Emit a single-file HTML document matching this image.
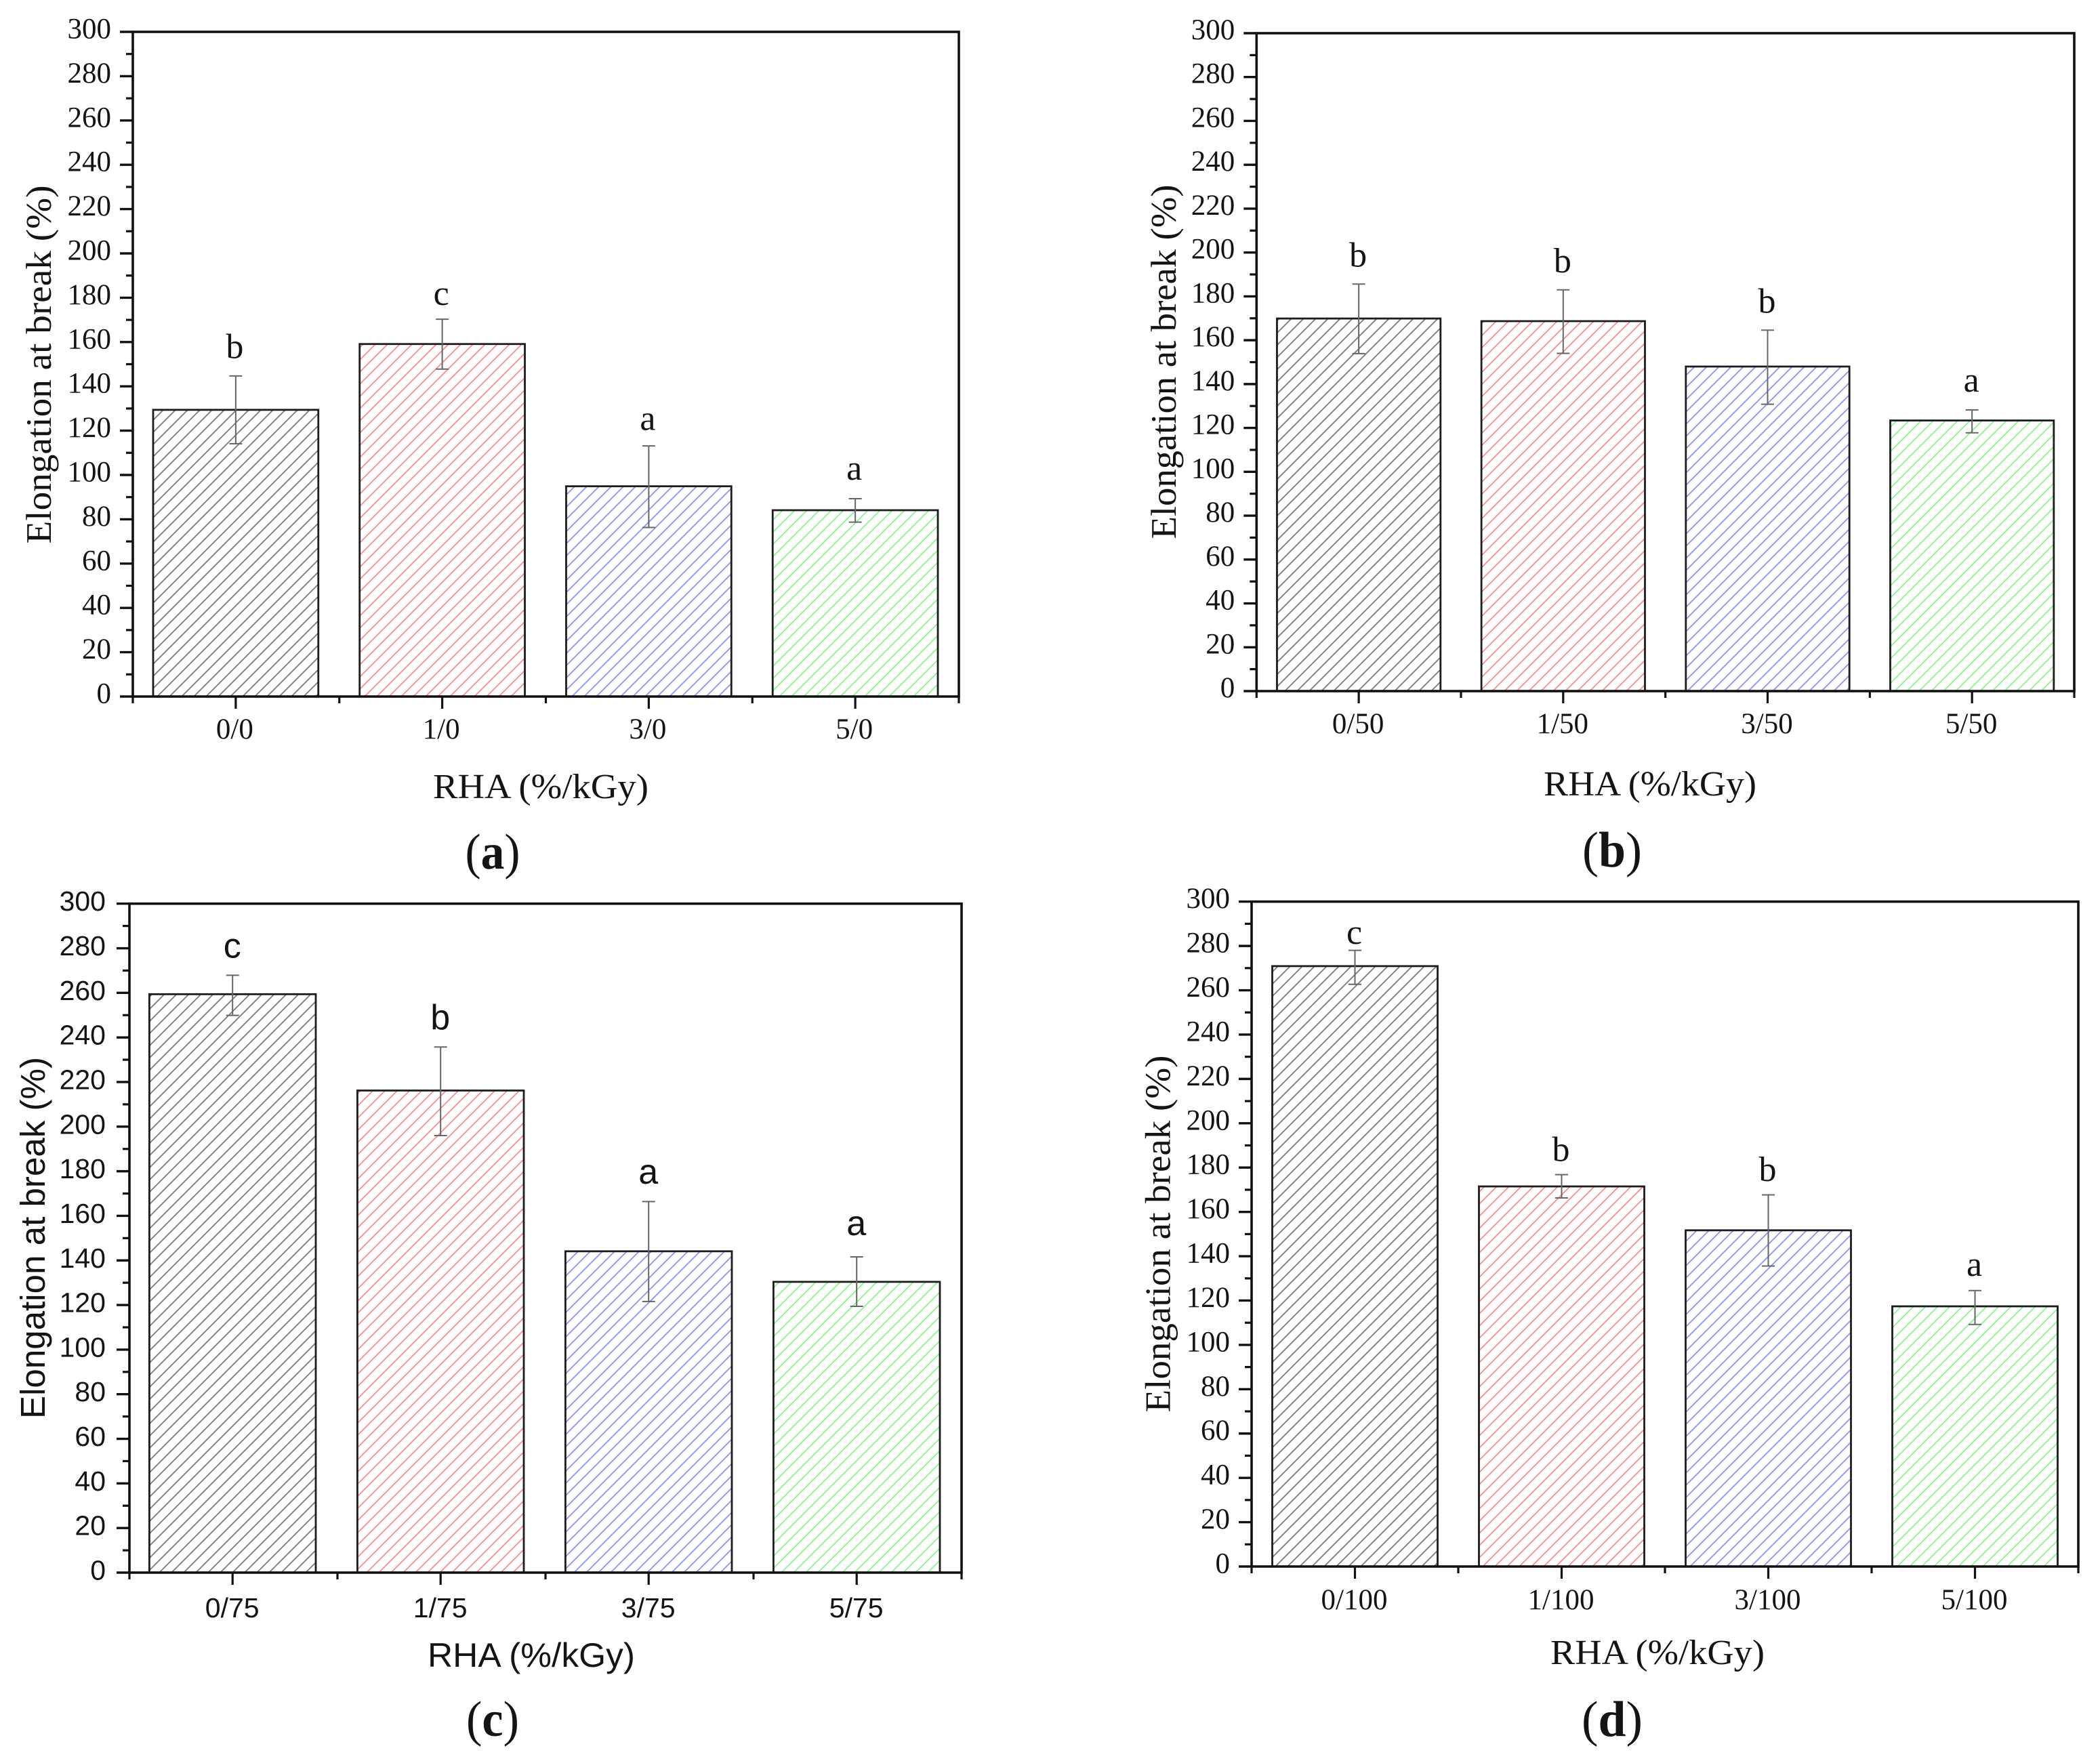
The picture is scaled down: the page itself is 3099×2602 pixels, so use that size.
<!DOCTYPE html>
<html lang="en">
<head>
<meta charset="utf-8">
<title>Elongation at break vs RHA content and irradiation dose</title>
<style>
  html, body { margin: 0; padding: 0; background: #ffffff; }
  svg { display: block; }
  text { fill: #141414; }
</style>
</head>
<body>
<svg id="figure" xmlns="http://www.w3.org/2000/svg" width="3099" height="2602" viewBox="0 0 3099 2602">
  <defs>
    <pattern id="hatch-black" patternUnits="userSpaceOnUse" width="18" height="18">
      <path d="M-2,2 L2,-2 M0,18 L18,0 M16,20 L20,16" stroke="#7a7a7a" stroke-width="1.8" fill="none"/>
    </pattern>
    <pattern id="hatch-red" patternUnits="userSpaceOnUse" width="18" height="18">
      <path d="M-2,2 L2,-2 M0,18 L18,0 M16,20 L20,16" stroke="#ff8a8a" stroke-width="1.8" fill="none"/>
    </pattern>
    <pattern id="hatch-blue" patternUnits="userSpaceOnUse" width="18" height="18">
      <path d="M-2,2 L2,-2 M0,18 L18,0 M16,20 L20,16" stroke="#8f8fff" stroke-width="1.8" fill="none"/>
    </pattern>
    <pattern id="hatch-green" patternUnits="userSpaceOnUse" width="18" height="18">
      <path d="M-2,2 L2,-2 M0,18 L18,0 M16,20 L20,16" stroke="#86f986" stroke-width="1.8" fill="none"/>
    </pattern>
  </defs>
  <rect x="0" y="0" width="3099" height="2602" fill="#ffffff"/>
  <g id="panel-a"></g>
  <g id="panel-b"></g>
  <g id="panel-c"></g>
  <g id="panel-d"></g>
  <text x="727" y="1282" text-anchor="middle" font-family="'Liberation Serif', serif" font-size="74" textLength="81" lengthAdjust="spacingAndGlyphs">(<tspan font-weight="bold">a</tspan>)</text>
  <text x="2379" y="1279" text-anchor="middle" font-family="'Liberation Serif', serif" font-size="74" textLength="88" lengthAdjust="spacingAndGlyphs">(<tspan font-weight="bold">b</tspan>)</text>
  <text x="727" y="2562" text-anchor="middle" font-family="'Liberation Serif', serif" font-size="74" textLength="78" lengthAdjust="spacingAndGlyphs">(<tspan font-weight="bold">c</tspan>)</text>
  <text x="2379" y="2562" text-anchor="middle" font-family="'Liberation Serif', serif" font-size="74" textLength="90" lengthAdjust="spacingAndGlyphs">(<tspan font-weight="bold">d</tspan>)</text>
</svg>
<script>
// Shared axis values
const yTicks = [0, 20, 40, 60, 80, 100, 120, 140, 160, 180, 200, 220, 240, 260, 280, 300];
const yDomainMax = 300;
const xAxisTitle = 'RHA (%/kGy)';
const yAxisTitle = 'Elongation at break (%)';

// Panel (a)
const categoriesA = ['0/0', '1/0', '3/0', '5/0'];
const valuesA = [129.4, 159.1, 94.9, 84.1];
const errHighA = [144.7, 170.3, 113.1, 89.3];
const errLowA = [114.1, 147.8, 76.3, 78.7];
const lettersA = ['b', 'c', 'a', 'a'];
const letterPadA = [8, 6.4, 7.3, 8.6];

// Panel (b)
const categoriesB = ['0/50', '1/50', '3/50', '5/50'];
const valuesB = [169.9, 168.7, 148, 123.4];
const errHighB = [185.6, 183, 164.6, 128.2];
const errLowB = [153.9, 154, 130.8, 117.8];
const lettersB = ['b', 'b', 'b', 'a'];
const letterPadB = [8, 8, 8, 8.3];

// Panel (c)
const categoriesC = ['0/75', '1/75', '3/75', '5/75'];
const valuesC = [259.4, 216.2, 144.1, 130.4];
const errHighC = [267.9, 235.7, 166.4, 141.6];
const errLowC = [249.9, 196, 121.6, 119.4];
const lettersC = ['c', 'b', 'a', 'a'];
const letterPadC = [7.9, 8, 8, 9.7];

// Panel (d)
const categoriesD = ['0/100', '1/100', '3/100', '5/100'];
const valuesD = [270.9, 171.5, 151.7, 117.4];
const errHighD = [278, 176.8, 167.7, 124.5];
const errLowD = [262.7, 166.3, 135.6, 109.2];
const lettersD = ['c', 'b', 'b', 'a'];
const letterPadD = [3, 6.1, 6.3, 6.7];

const hatchFills = ['url(#hatch-black)', 'url(#hatch-red)', 'url(#hatch-blue)', 'url(#hatch-green)'];
const SVG_NS = 'http://www.w3.org/2000/svg';
const SERIF = "'Liberation Serif', serif";
const SANS = "'Liberation Sans', sans-serif";

function make(parent, tag, attrs, content) {
  const node = document.createElementNS(SVG_NS, tag);
  Object.keys(attrs).forEach(function (k) { node.setAttribute(k, attrs[k]); });
  if (content !== undefined) node.textContent = content;
  parent.appendChild(node);
  return node;
}

function drawPanel(panelId, layout, categories, values, errHigh, errLow, letters, letterPad) {
  const root = document.getElementById(panelId);
  const band = (layout.right - layout.left) / categories.length;
  const xScale = function (i) { return layout.left + layout.bandShift + (i + 0.5) * band; };
  const yScale = function (v) { return layout.base - (v / yDomainMax) * (layout.base - layout.top); };
  const barW = band * 0.8;

  // Bars
  values.forEach(function (v, i) {
    const el = make(root, 'rect', {
      x: xScale(i) - barW / 2, y: yScale(v), width: barW, height: layout.base - yScale(v),
      fill: hatchFills[i], stroke: '#1c1c1c', 'stroke-width': 2.8
    });
    
    
  });

  // Error bars
  values.forEach(function (v, i) {
    const cx = xScale(i);
    const yHi = yScale(errHigh[i]);
    const yLo = yScale(errLow[i]);
    const el = make(root, 'path', {
      d: 'M' + (cx - 9.5) + ',' + yHi + ' H' + (cx + 9.5) + ' M' + cx + ',' + yHi + ' V' + yLo + ' M' + (cx - 9.5) + ',' + yLo + ' H' + (cx + 9.5),
      fill: 'none', stroke: '#666666', 'stroke-width': 2
    });
    
    
  });

  // Significance letters
  letters.forEach(function (letter, i) {
    const el = make(root, 'text', {
      x: xScale(i) + layout.letterShift, y: yScale(errHigh[i] + letterPad[i]), 'text-anchor': 'middle',
      'font-family': layout.font, 'font-size': 52
    }, letter);
    
    
  });

  // Y ticks and labels
  yTicks.forEach(function (t, i) {
    const y = yScale(t);
    const major = make(root, 'line', {
      x1: layout.left - 19, x2: layout.left, y1: y, y2: y, stroke: '#111111', 'stroke-width': 3.4
    });
    
    
    const label = make(root, 'text', {
      x: layout.left - layout.labelGap, y: y + layout.labelDrop, 'text-anchor': 'end',
      'font-family': layout.font, 'font-size': layout.tickSize
    }, String(t));
    
    
    if (i < yTicks.length - 1) {
      const ym = yScale((t + yTicks[i + 1]) / 2);
      const minor = make(root, 'line', {
        x1: layout.left - 10, x2: layout.left, y1: ym, y2: ym, stroke: '#111111', 'stroke-width': 3.2
      });
      
      
    }
  });

  // X ticks and labels
  categories.forEach(function (c, i) {
    const x = xScale(i);
    const major = make(root, 'line', {
      x1: x, x2: x, y1: layout.base, y2: layout.base + 18, stroke: '#111111', 'stroke-width': 3.2
    });
    
    
    const label = make(root, 'text', {
      x: x + layout.letterShift, y: layout.xLabelY, 'text-anchor': 'middle',
      'font-family': layout.font, 'font-size': layout.tickSize
    }, c);
    
    
  });
  for (let i = 0; i <= categories.length; i++) {
    const xm = layout.left + i * band;
    const minor = make(root, 'line', {
      x1: xm, x2: xm, y1: layout.base, y2: layout.base + 10, stroke: '#111111', 'stroke-width': 3.2
    });
    
    
  }

  // Frame
  const frame = make(root, 'rect', {
    x: layout.left, y: layout.top, width: layout.right - layout.left, height: layout.base - layout.top,
    fill: 'none', stroke: '#111111', 'stroke-width': 3.6
  });
  
  

  // Axis titles
  const xt = make(root, 'text', {
    x: layout.xTitleX, y: layout.xTitleY, 'text-anchor': 'middle',
    'font-family': layout.font, 'font-size': layout.xTitleSize,
    textLength: layout.xTitleLen, lengthAdjust: 'spacingAndGlyphs'
  }, xAxisTitle);
  
  

  const yt = make(root, 'text', {
    x: 0, y: 0, 'text-anchor': 'middle',
    transform: 'translate(' + layout.yTitleX + ' ' + layout.yTitleY + ') rotate(-90)',
    'font-family': layout.font, 'font-size': layout.yTitleSize,
    textLength: layout.yTitleLen, lengthAdjust: 'spacingAndGlyphs'
  }, yAxisTitle);
  
  
}

const layoutA = { left: 196, right: 1415, top: 47, base: 1028, bandShift: -0.5, letterShift: -1.5, font: SERIF, tickSize: 43, labelGap: 32, labelDrop: 9.5, xLabelY: 1090, xTitleX: 798, xTitleY: 1178, xTitleSize: 52, xTitleLen: 318, yTitleX: 75, yTitleY: 538, yTitleSize: 53, yTitleLen: 529 };
const layoutB = { left: 1854.3, right: 3061, top: 49, base: 1020, bandShift: 0, letterShift: -1, font: SERIF, tickSize: 43, labelGap: 32, labelDrop: 9, xLabelY: 1082, xTitleX: 2435, xTitleY: 1174, xTitleSize: 52, xTitleLen: 314, yTitleX: 1735, yTitleY: 534, yTitleSize: 53, yTitleLen: 523 };
const layoutC = { left: 191, right: 1419, top: 1333.7, base: 2321, bandShift: -1.3, letterShift: -0.5, font: SANS, tickSize: 41, labelGap: 35, labelDrop: 10.5, xLabelY: 2387, xTitleX: 784, xTitleY: 2460, xTitleSize: 50, xTitleLen: 306, yTitleX: 66, yTitleY: 1827, yTitleSize: 51, yTitleLen: 534 };
const layoutD = { left: 1847, right: 3067, top: 1330.7, base: 2312, bandShift: 0, letterShift: -1, font: SERIF, tickSize: 43, labelGap: 32, labelDrop: 9.5, xLabelY: 2375, xTitleX: 2446, xTitleY: 2456, xTitleSize: 52, xTitleLen: 316, yTitleX: 1726.5, yTitleY: 1821, yTitleSize: 53, yTitleLen: 527 };

drawPanel('panel-a', layoutA, categoriesA, valuesA, errHighA, errLowA, lettersA, letterPadA);
drawPanel('panel-b', layoutB, categoriesB, valuesB, errHighB, errLowB, lettersB, letterPadB);
drawPanel('panel-c', layoutC, categoriesC, valuesC, errHighC, errLowC, lettersC, letterPadC);
drawPanel('panel-d', layoutD, categoriesD, valuesD, errHighD, errLowD, lettersD, letterPadD);
</script>
</body>
</html>
